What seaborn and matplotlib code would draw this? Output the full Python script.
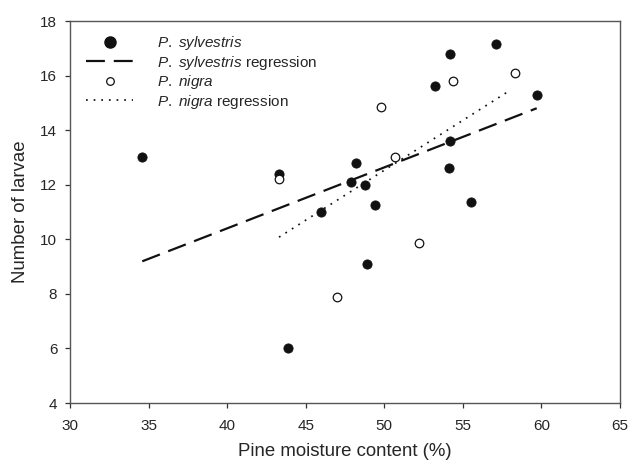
import numpy as np
import pandas as pd
import matplotlib
matplotlib.use("Agg")
import matplotlib.pyplot as plt
import seaborn as sns
from matplotlib.lines import Line2D

# ---- data ----
syl_x = [34.6, 43.3, 43.9, 46.0, 47.9, 48.2, 48.8, 48.9, 49.4, 53.2, 54.2, 54.2, 54.1, 55.5, 57.1, 59.7]
syl_y = [13.0, 12.4, 6.0, 11.0, 12.1, 12.8, 12.0, 9.1, 11.25, 15.6, 16.8, 13.6, 12.6, 11.35, 17.15, 15.3]
nig_x = [43.3, 47.0, 49.8, 50.7, 52.2, 54.4, 58.3]
nig_y = [12.2, 7.9, 14.85, 13.0, 9.85, 15.8, 16.1]
# regression lines (slope, intercept)
syl_reg = (0.2235, 1.46)
nig_reg = (0.366, -5.77)

x_ticks = [30, 35, 40, 45, 50, 55, 60, 65]
y_ticks = [4, 6, 8, 10, 12, 14, 16, 18]

sns.set_style("ticks")
plt.rcParams["font.family"] = ["Liberation Sans", "DejaVu Sans"]
plt.rcParams["mathtext.fontset"] = "custom"
plt.rcParams["mathtext.it"] = "Liberation Sans:italic"
plt.rcParams["mathtext.rm"] = "Liberation Sans"

W, H = 629, 461
fig = plt.figure(figsize=(W / 100, H / 100), dpi=100)
ax = fig.add_axes([70 / W, 1 - 403 / H, (620 - 70) / W, (403 - 21) / H])

syl = pd.DataFrame({"x": syl_x, "y": syl_y})
nig = pd.DataFrame({"x": nig_x, "y": nig_y})

sx = np.array([min(syl_x), max(syl_x)])
nx = np.array([min(nig_x), 58.0])
syl_line = pd.DataFrame({"x": sx, "y": syl_reg[0] * sx + syl_reg[1]})
nig_line = pd.DataFrame({"x": nx, "y": nig_reg[0] * nx + nig_reg[1]})

ink = "#111111"
dash_syl = (0, (8.5, 4.0))
dash_nig = (0, (1.0, 3.4))
sns.lineplot(data=syl_line, x="x", y="y", ax=ax, color=ink, lw=1.6,
             dashes=False, linestyle=dash_syl)
sns.lineplot(data=nig_line, x="x", y="y", ax=ax, color=ink, lw=1.25,
             dashes=False, linestyle=dash_nig)
sns.scatterplot(data=syl, x="x", y="y", ax=ax, color=ink, s=44,
                edgecolor=ink, linewidth=0.6, zorder=3)
sns.scatterplot(data=nig, x="x", y="y", ax=ax, facecolor="white", s=38,
                edgecolor=ink, linewidth=0.9, zorder=4)

ax.set_xlim(30, 65)
ax.set_ylim(4, 18)
ax.set_xticks(x_ticks)
ax.set_yticks(y_ticks)
ax.tick_params(axis="both", direction="out", length=3.6, width=0.9,
               color="#333333", labelsize=11)
ax.tick_params(axis="x", pad=8)
ax.tick_params(axis="y", pad=5.5)
for s in ax.spines.values():
    s.set_color("#555555")
    s.set_linewidth(1.0)
ax.set_xlabel("Pine moisture content (%)", fontsize=13.4, labelpad=7)
ax.set_ylabel("Number of larvae", fontsize=13.4, labelpad=8)

handles = [
    Line2D([], [], ls="none", marker="o", ms=8, color=ink),
    Line2D([], [], color=ink, lw=1.6, linestyle=dash_syl),
    Line2D([], [], ls="none", marker="o", ms=5.5, mfc="white", mec=ink, mew=0.9),
    Line2D([], [], color=ink, lw=1.25, linestyle=dash_nig),
]
labels = [r"$\mathit{P.}$ $\mathit{sylvestris}$",
          r"$\mathit{P.}$ $\mathit{sylvestris}$ regression",
          r"$\mathit{P.}$ $\mathit{nigra}$",
          r"$\mathit{P.}$ $\mathit{nigra}$ regression"]
ax.legend(handles, labels, loc="upper left", frameon=False, fontsize=11,
          handlelength=3.1, handletextpad=1.55, labelspacing=0.1,
          borderpad=0, borderaxespad=0,
          bbox_to_anchor=(86 / W, 1 - 34 / H), bbox_transform=fig.transFigure)

fig.savefig("out.png", dpi=100)
